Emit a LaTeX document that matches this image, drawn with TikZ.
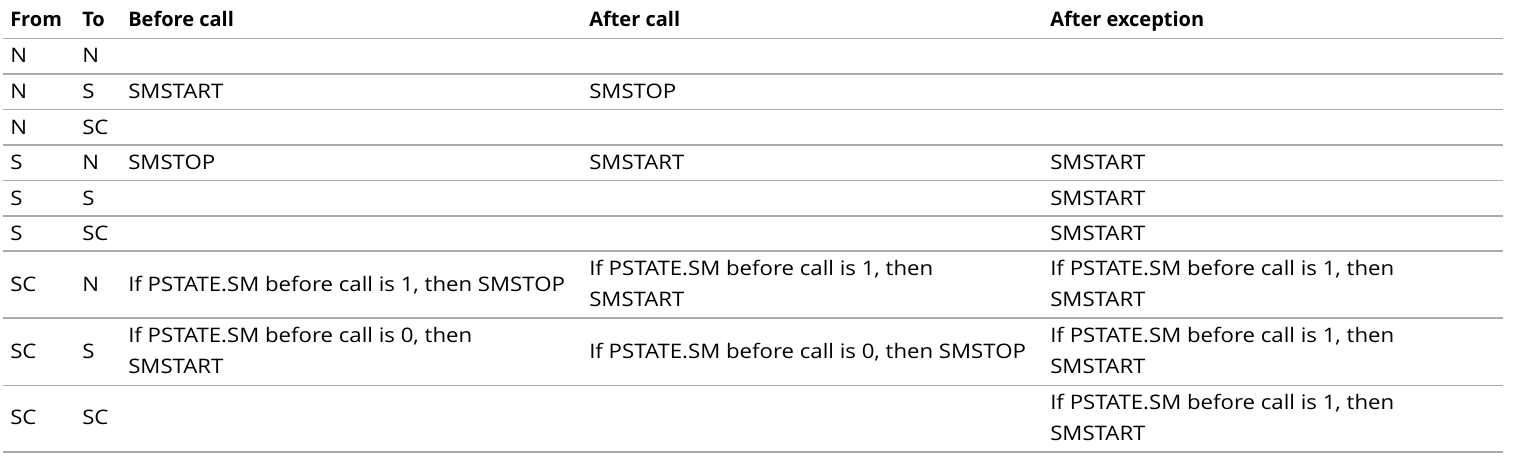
\documentclass[tikz,border=0pt]{standalone}
\usepackage{fontspec}
\setmainfont{Open Sans}[FakeStretch=1.11]
\newfontfamily\headfont{Open Sans}
\usepackage{tikz}
\usepackage{xcolor}

\tikzset{
  cell/.style={anchor=base west,inner sep=0pt,align=left,color={rgb, 255:red, 0; green, 0; blue, 0 },font=\fontsize{15pt}{23pt}\selectfont},
  head/.style={cell,font=\fontsize{15pt}{23pt}\selectfont\headfont\bfseries},
  rowline/.style={color={rgb, 255:red, 170; green, 170; blue, 170 },line width=1.1pt}
}

\begin{document}
\begin{tikzpicture}[x=0.75pt,y=0.75pt,yscale=-1,xscale=1]
\useasboundingbox (0,0) rectangle (1540,460);

%Straight Lines: rules under header and each row
\coordinate (L0) at (3,38.5);   \coordinate (R0) at (1503,38.5);
\coordinate (L1) at (3,74);     \coordinate (R1) at (1503,74);
\coordinate (L2) at (3,109.5);  \coordinate (R2) at (1503,109.5);
\coordinate (L3) at (3,145);    \coordinate (R3) at (1503,145);
\coordinate (L4) at (3,180.5);  \coordinate (R4) at (1503,180.5);
\coordinate (L5) at (3,216);    \coordinate (R5) at (1503,216);
\coordinate (L6) at (3,251);    \coordinate (R6) at (1503,251);
\coordinate (L7) at (3,318);    \coordinate (R7) at (1503,318);
\coordinate (L8) at (3,385.5);  \coordinate (R8) at (1503,385.5);
\coordinate (L9) at (3,452);    \coordinate (R9) at (1503,452);
\foreach \i in {0,...,9} \draw [rowline] (L\i) -- (R\i);

% Header
\node [head] (hFrom) at (10,27) {From};
\node [head] (hTo) at (82,27) {To};
\node [head] (hBefore) at (128,27) {Before call};
\node [head] (hAfter) at (589,27) {After call};
\node [head] (hExc) at (1050,27) {After exception};

% Row 1
\node [cell] (r1from) at (10,63) {N};
\node [cell] (r1to) at (82,63) {N};
% Row 2
\node [cell] (r2from) at (10,98.5) {N};
\node [cell] (r2to) at (82,98.5) {S};
\node [cell] (r2before) at (128,98.5) {SMSTART};
\node [cell] (r2after) at (589,98.5) {SMSTOP};
% Row 3
\node [cell] (r3from) at (10,134) {N};
\node [cell] (r3to) at (82,134) {SC};
% Row 4
\node [cell] (r4from) at (10,169.5) {S};
\node [cell] (r4to) at (82,169.5) {N};
\node [cell] (r4before) at (128,169.5) {SMSTOP};
\node [cell] (r4after) at (589,169.5) {SMSTART};
\node [cell] (r4exc) at (1050,169.5) {SMSTART};
% Row 5
\node [cell] (r5from) at (10,205) {S};
\node [cell] (r5to) at (82,205) {S};
\node [cell] (r5exc) at (1050,205) {SMSTART};
% Row 6
\node [cell] (r6from) at (10,240) {S};
\node [cell] (r6to) at (82,240) {SC};
\node [cell] (r6exc) at (1050,240) {SMSTART};
% Row 7 (two-line cells sit on the baseline of their last line)
\node [cell] (r7from) at (10,291) {SC};
\node [cell] (r7to) at (82,291) {N};
\node [cell] (r7before) at (128,291) {If PSTATE.SM before call is 1, then SMSTOP};
\node [cell] (r7after) at (589,306) {If PSTATE.SM before call is 1, then\\SMSTART};
\node [cell] (r7exc) at (1050,306) {If PSTATE.SM before call is 1, then\\SMSTART};
% Row 8
\node [cell] (r8from) at (10,358) {SC};
\node [cell] (r8to) at (82,358) {S};
\node [cell] (r8before) at (128,373.3) {If PSTATE.SM before call is 0, then\\SMSTART};
\node [cell] (r8after) at (589,358) {If PSTATE.SM before call is 0, then SMSTOP};
\node [cell] (r8exc) at (1050,373.3) {If PSTATE.SM before call is 1, then\\SMSTART};
% Row 9
\node [cell] (r9from) at (10,424.5) {SC};
\node [cell] (r9to) at (82,424.5) {SC};
\node [cell] (r9exc) at (1050,440) {If PSTATE.SM before call is 1, then\\SMSTART};

\end{tikzpicture}
\end{document}
